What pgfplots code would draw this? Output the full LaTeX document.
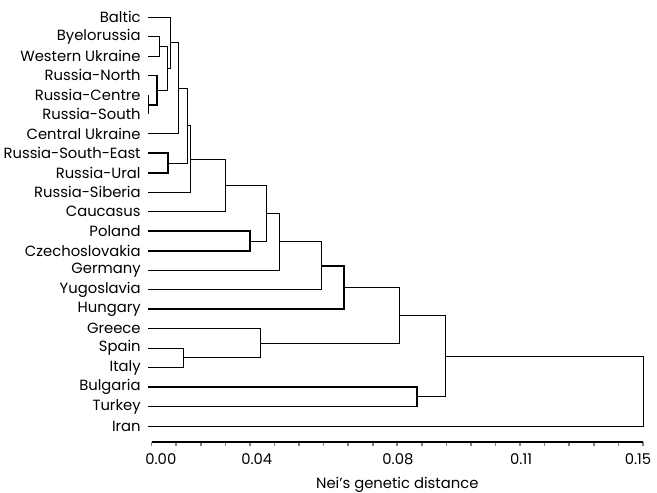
\documentclass[border=0pt]{standalone}
\usepackage{pgfplots}
\pgfplotsset{compat=1.18}
\usepackage{fontspec}
\setmainfont{Poppins}
% leaf lines start a bit left of zero, as in the scan
\def\L{-0.0011}
\begin{document}
\fontsize{7.4}{8.9}\selectfont
\begin{tikzpicture}
\begin{axis}[
  scale only axis, width=245.65pt, height=221pt,
  xmin=0, xmax=0.15, ymin=0.18, ymax=22.873, clip=false,
  axis x line*=bottom, axis y line*=left,
  y axis line style={draw=none},
  x axis line style={line width=1.1pt},
  xtick={0.0028,0.0321,0.0752,0.1128,0.1485},
  xticklabels={0.00,0.04,0.08,0.11,0.15},
  major x tick style={draw=none},
  minor xtick={0,0.0075,0.015,0.0225,0.03,0.0375,0.045,0.0525,0.06,0.0675,0.075,0.0825,0.09,0.0975,0.105,0.1125,0.12,0.1275,0.135,0.1425,0.15},
  minor x tick style={line width=0.8pt},
  tick align=outside, minor tick length=2pt, major tick length=0pt,
  ytick={1,...,22},
  yticklabels={Iran,Turkey,Bulgaria,Italy,Spain,Greece,Hungary,Yugoslavia,Germany,Czechoslovakia,Poland,Caucasus,Russia-Siberia,Russia-Ural,Russia-South-East,Central Ukraine,Russia-South,Russia-Centre,Russia-North,Western Ukraine,Byelorussia,Baltic},
  major y tick style={draw=none},
  yticklabel style={inner sep=0pt, xshift=-5.3pt},
  xticklabel style={inner sep=0pt, yshift=-5.5pt},
  xlabel={Nei's genetic distance},
  xlabel style={inner sep=0pt, yshift=-6pt},
  cycle list={{black, solid, line width=0.9pt, mark=none}},
]
% Byelorussia + Western Ukraine
\addplot coordinates {(\L,21) (0.0023,21) (0.0023,20) (\L,20)};
% Russia-Centre + Russia-South
\addplot coordinates {(\L,18) (\L,17)};
% Russia-North
\addplot coordinates {(\L,19) (0.0016,19) (0.0016,17.5) (\L,17.5)};
\addplot coordinates {(0.0023,20.5) (0.0047,20.5) (0.0047,18.25) (0.0016,18.25)};
% Baltic
\addplot coordinates {(\L,22) (0.0056,22) (0.0056,19.375) (0.0047,19.375)};
% Central Ukraine
\addplot coordinates {(0.0056,20.6875) (0.0083,20.6875) (0.0083,16) (\L,16)};
% Russia-South-East + Russia-Ural
\addplot coordinates {(\L,15) (0.0049,15) (0.0049,14) (\L,14)};
\addplot coordinates {(0.0083,18.3438) (0.0108,18.3438) (0.0108,14.5) (0.0049,14.5)};
% Russia-Siberia
\addplot coordinates {(0.0108,16.4219) (0.0117,16.4219) (0.0117,13) (\L,13)};
% Caucasus
\addplot coordinates {(0.0117,14.7109) (0.0224,14.7109) (0.0224,12) (\L,12)};
% Poland + Czechoslovakia
\addplot coordinates {(\L,11) (0.0300,11) (0.0300,10) (\L,10)};
\addplot coordinates {(0.0224,13.3555) (0.0351,13.3555) (0.0351,10.5) (0.0300,10.5)};
% Germany
\addplot coordinates {(0.0351,11.9277) (0.0389,11.9277) (0.0389,9) (\L,9)};
% Yugoslavia
\addplot coordinates {(0.0389,10.4639) (0.0519,10.4639) (0.0519,8) (\L,8)};
% Hungary
\addplot coordinates {(0.0519,9.2319) (0.0587,9.2319) (0.0587,7) (\L,7)};
% Spain + Italy
\addplot coordinates {(\L,5) (0.0096,5) (0.0096,4) (\L,4)};
% Greece
\addplot coordinates {(\L,6) (0.0331,6) (0.0331,4.5) (0.0096,4.5)};
\addplot coordinates {(0.0587,8.1160) (0.0755,8.1160) (0.0755,5.25) (0.0331,5.25)};
% Bulgaria + Turkey
\addplot coordinates {(\L,3) (0.0810,3) (0.0810,2) (\L,2)};
\addplot coordinates {(0.0755,6.6830) (0.0896,6.6830) (0.0896,2.5) (0.0810,2.5)};
% Iran
\addplot coordinates {(0.0896,4.5915) (0.15,4.5915) (0.15,1) (\L,1)};
% frame of the page, as in the reference
\path (axis cs:-0.0463,-2.34) rectangle (axis cs:0.1543,22.873);
\end{axis}
\end{tikzpicture}
\end{document}
